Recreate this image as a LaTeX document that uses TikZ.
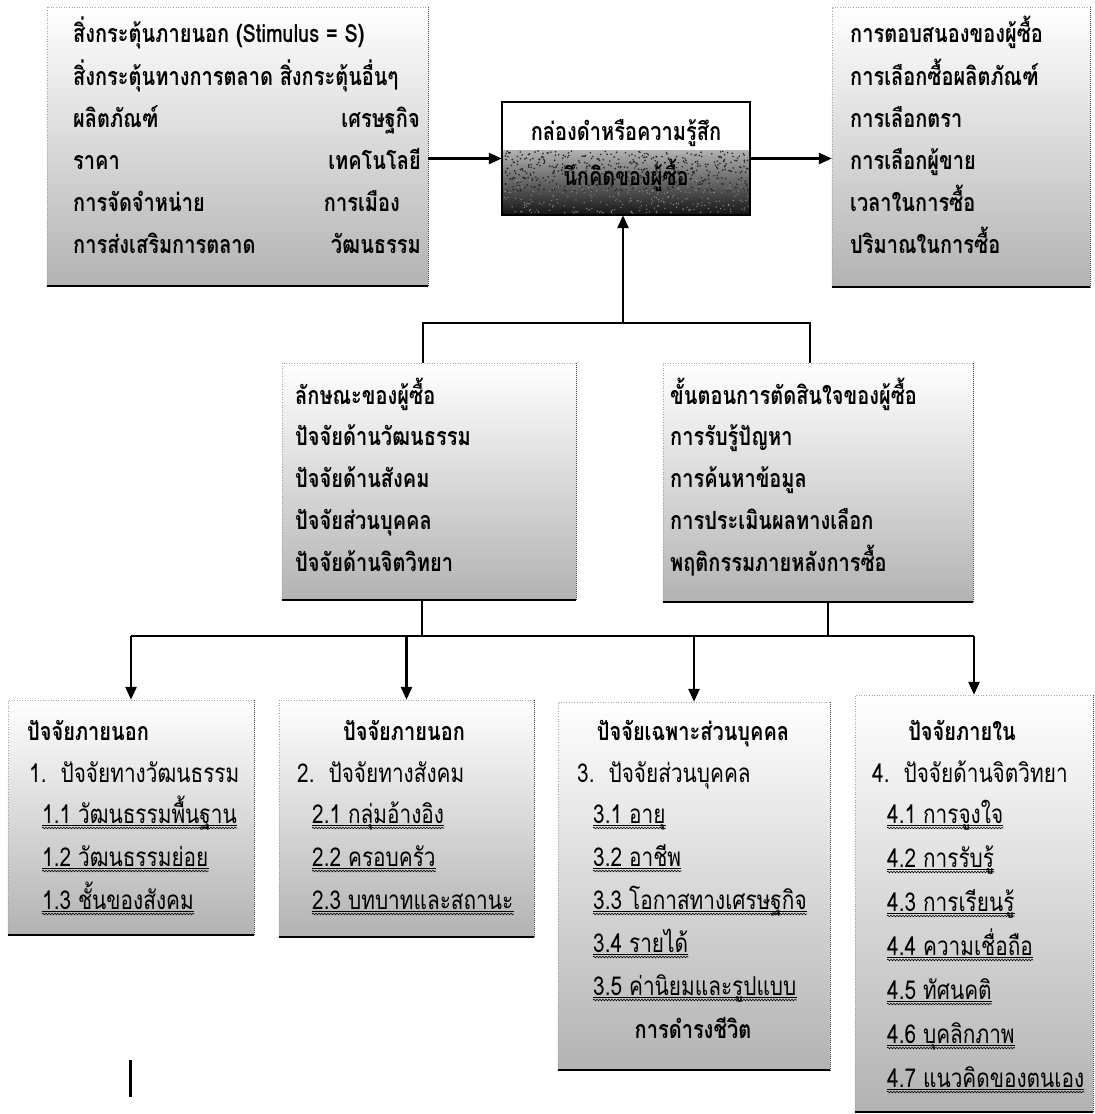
\documentclass[tikz,border=0pt]{standalone}
\usepackage{fontspec}
\setmainfont[Script=Thai]{Loma}
\newfontfamily\thaifont[Script=Thai,FakeStretch=0.8]{Loma}
\usetikzlibrary{arrows.meta,fit,calc,decorations.pathmorphing}
\tikzset{
  hd/.style={font=\thaifont\bfseries\fontsize{25}{29}\selectfont, inner sep=0pt, anchor=base west},
  hdc/.style={hd, anchor=base},
  hde/.style={hd, anchor=base east},
  itm/.style={font=\thaifont\fontsize{26}{30}\selectfont, inner sep=0pt, anchor=base west},
  conn/.style={line width=2.6pt, black},
  arr/.style={conn, -{Triangle[length=13pt,width=11pt]}},
}
\newcommand\panel[5]{%
  \node[inner sep=0pt, fit={(#2,#3) (#4,#5)}] (#1) {};
  \shade[top color=white, middle color=white, bottom color=black!30] (#1.north west) rectangle (#1.south east);
  \draw[gray!70, dotted, line width=0.6pt] (#1.south west) -- (#1.north west) -- (#1.north east);
  \draw[black!75, densely dotted, line width=1pt] (#1.north east) -- (#1.south east);
  \draw[black, line width=1.6pt] (#1.south west) -- (#1.south east);
}
\newcommand\ulnode[4]{%
  \node[itm] (#1) at (#2,#3) {#4};
  \draw[line width=0.7pt] ([yshift=-2.5pt]#1.base west) -- ([yshift=-2.5pt]#1.base east);
  \draw[line width=0.6pt, decorate, decoration={snake, amplitude=0.8pt, segment length=3pt}] ([yshift=-5pt]#1.base west) -- ([yshift=-5pt]#1.base east);
}
\begin{document}
\begin{tikzpicture}[x=1pt,y=-1pt]
\fill[white] (0,0) rectangle (1095,1114);
\useasboundingbox (0,0) rectangle (1095,1114);

% ---------- top row ----------
\panel{lbox}{47}{7}{428}{286}
\node[hd] (l1) at (73,42) {สิ่งกระตุ้นภายนอก (Stimulus = S)};
\node[hd] (l2) at (73,85) {สิ่งกระตุ้นทางการตลาด สิ่งกระตุ้นอื่นๆ};
\node[hd] (l3a) at (73,127) {ผลิตภัณฑ์};
\node[hde] (l3b) at (420,127) {เศรษฐกิจ};
\node[hd] (l4a) at (73,169) {ราคา};
\node[hde] (l4b) at (421,169) {เทคโนโลยี};
\node[hd] (l5a) at (73,211) {การจัดจำหน่าย};
\node[hde] (l5b) at (400,211) {การเมือง};
\node[hd] (l6a) at (73,253) {การส่งเสริมการตลาด};
\node[hde] (l6b) at (421,253) {วัฒนธรรม};

\node[inner sep=0pt, fit={(502,102) (750,215)}] (mid) {};
\fill[white] (mid.north west) rectangle (mid.south east);
\shade[top color=black!30, bottom color=black!92] (502,150) rectangle (750,215);
\pgfmathsetseed{42}
\foreach \k in {1,...,500}{%
  \pgfmathsetmacro{\rx}{504+244*rnd}\pgfmathsetmacro{\ry}{151+40*rnd}%
  \fill[black!85] (\rx,\ry) circle (0.9pt);}
\foreach \k in {1,...,300}{%
  \pgfmathsetmacro{\rx}{504+244*rnd}\pgfmathsetmacro{\ry}{178+35*rnd}%
  \fill[black!45] (\rx,\ry) circle (0.7pt);}
\draw[line width=2.5pt] (mid.north west) rectangle (mid.south east);
\node[hdc] (m1) at (626,140) {กล่องดำหรือความรู้สึก};
\node[hdc] (m2) at (626,185) {นึกคิดของผู้ซื้อ};

\panel{rbox}{832}{7}{1090}{287}
\node[hd] (r1) at (850,42) {การตอบสนองของผู้ซื้อ};
\node[hd] (r2) at (850,85) {การเลือกซื้อผลิตภัณฑ์};
\node[hd] (r3) at (850,127) {การเลือกตรา};
\node[hd] (r4) at (850,169) {การเลือกผู้ขาย};
\node[hd] (r5) at (850,211) {เวลาในการซื้อ};
\node[hd] (r6) at (850,253) {ปริมาณในการซื้อ};

% ---------- middle row ----------
\panel{mlbox}{282}{363}{576}{600}
\node[hd] (a1) at (295,404) {ลักษณะของผู้ซื้อ};
\node[hd] (a2) at (295,445) {ปัจจัยด้านวัฒนธรรม};
\node[hd] (a3) at (295,487) {ปัจจัยด้านสังคม};
\node[hd] (a4) at (295,529) {ปัจจัยส่วนบุคคล};
\node[hd] (a5) at (295,571) {ปัจจัยด้านจิตวิทยา};

\panel{mrbox}{663}{363}{973}{602}
\node[hd] (b1) at (670,404) {ขั้นตอนการตัดสินใจของผู้ซื้อ};
\node[hd] (b2) at (670,445) {การรับรู้ปัญหา};
\node[hd] (b3) at (670,487) {การค้นหาข้อมูล};
\node[hd] (b4) at (670,529) {การประเมินผลทางเลือก};
\node[hd] (b5) at (670,571) {พฤติกรรมภายหลังการซื้อ};

% ---------- bottom row ----------
\panel{q1}{8}{700}{254}{935}
\node[hd] (q1t) at (27,740) {ปัจจัยภายนอก};
\node[itm] (q1h) at (29,782) {1.\ \ ปัจจัยทางวัฒนธรรม};
\ulnode{q1a}{42}{823}{1.1 วัฒนธรรมพื้นฐาน}
\ulnode{q1b}{42}{866}{1.2 วัฒนธรรมย่อย}
\ulnode{q1c}{42}{909}{1.3 ชั้นของสังคม}

\panel{q2}{279}{700}{534}{937}
\node[hdc] (q2t) at (404,740) {ปัจจัยภายนอก};
\node[itm] (q2h) at (297,782) {2.\ \ ปัจจัยทางสังคม};
\ulnode{q2a}{312}{823}{2.1 กลุ่มอ้างอิง}
\ulnode{q2b}{312}{866}{2.2 ครอบครัว}
\ulnode{q2c}{312}{909}{2.3 บทบาทและสถานะ}

\panel{q3}{558}{702}{830}{1070}
\node[hdc] (q3t) at (693,740) {ปัจจัยเฉพาะส่วนบุคคล};
\node[itm] (q3h) at (577,782) {3.\ \ ปัจจัยส่วนบุคคล};
\ulnode{q3a}{593}{823}{3.1 อายุ}
\ulnode{q3b}{593}{866}{3.2 อาชีพ}
\ulnode{q3c}{593}{909}{3.3 โอกาสทางเศรษฐกิจ}
\ulnode{q3d}{593}{952}{3.4 รายได้}
\ulnode{q3e}{593}{995}{3.5 ค่านิยมและรูปแบบ}
\node[hdc] (q3f) at (693,1038) {การดำรงชีวิต};

\panel{q4}{855}{695}{1093}{1112}
\node[hdc] (q4t) at (962,740) {ปัจจัยภายใน};
\node[itm] (q4h) at (872,782) {4.\ \ ปัจจัยด้านจิตวิทยา};
\ulnode{q4a}{887}{823}{4.1 การจูงใจ}
\ulnode{q4b}{887}{867}{4.2 การรับรู้}
\ulnode{q4c}{887}{911}{4.3 การเรียนรู้}
\ulnode{q4d}{887}{955}{4.4 ความเชื่อถือ}
\ulnode{q4e}{887}{999}{4.5 ทัศนคติ}
\ulnode{q4f}{887}{1043}{4.6 บุคลิกภาพ}
\ulnode{q4g}{887}{1087}{4.7 แนวคิดของตนเอง}

% ---------- connectors ----------
\draw[arr] (lbox.east |- mid.west) -- (mid.west);
\draw[arr] (mid.east) -- (mid.east -| rbox.west);
\coordinate (j1) at (623,323);
\coordinate (j2) at (0,636);
\draw[conn] ($(mlbox.north)+(-6,0)$) |- (j1) -| ($(mrbox.north)+(-8,0)$);
\draw[arr] (j1) -- (j1 |- mid.south);
\draw[conn] ($(mlbox.south)+(-7,0)$) -- ($(mlbox.south |- j2)+(-7,0)$);
\draw[conn] ($(mrbox.south)+(10,0)$) -- ($(mrbox.south |- j2)+(10,0)$);
\draw[conn] (q1.north |- j2) -- (q4.north |- j2);
\draw[arr] (q1.north |- j2) -- (q1.north);
\draw[arr] (q2.north |- j2) -- (q2.north);
\draw[arr] (q3.north |- j2) -- (q3.north);
\draw[arr] (q4.north |- j2) -- (q4.north);

% stray mark
\draw[line width=3pt] (130,1060) -- (130,1097);
\end{tikzpicture}
\end{document}
